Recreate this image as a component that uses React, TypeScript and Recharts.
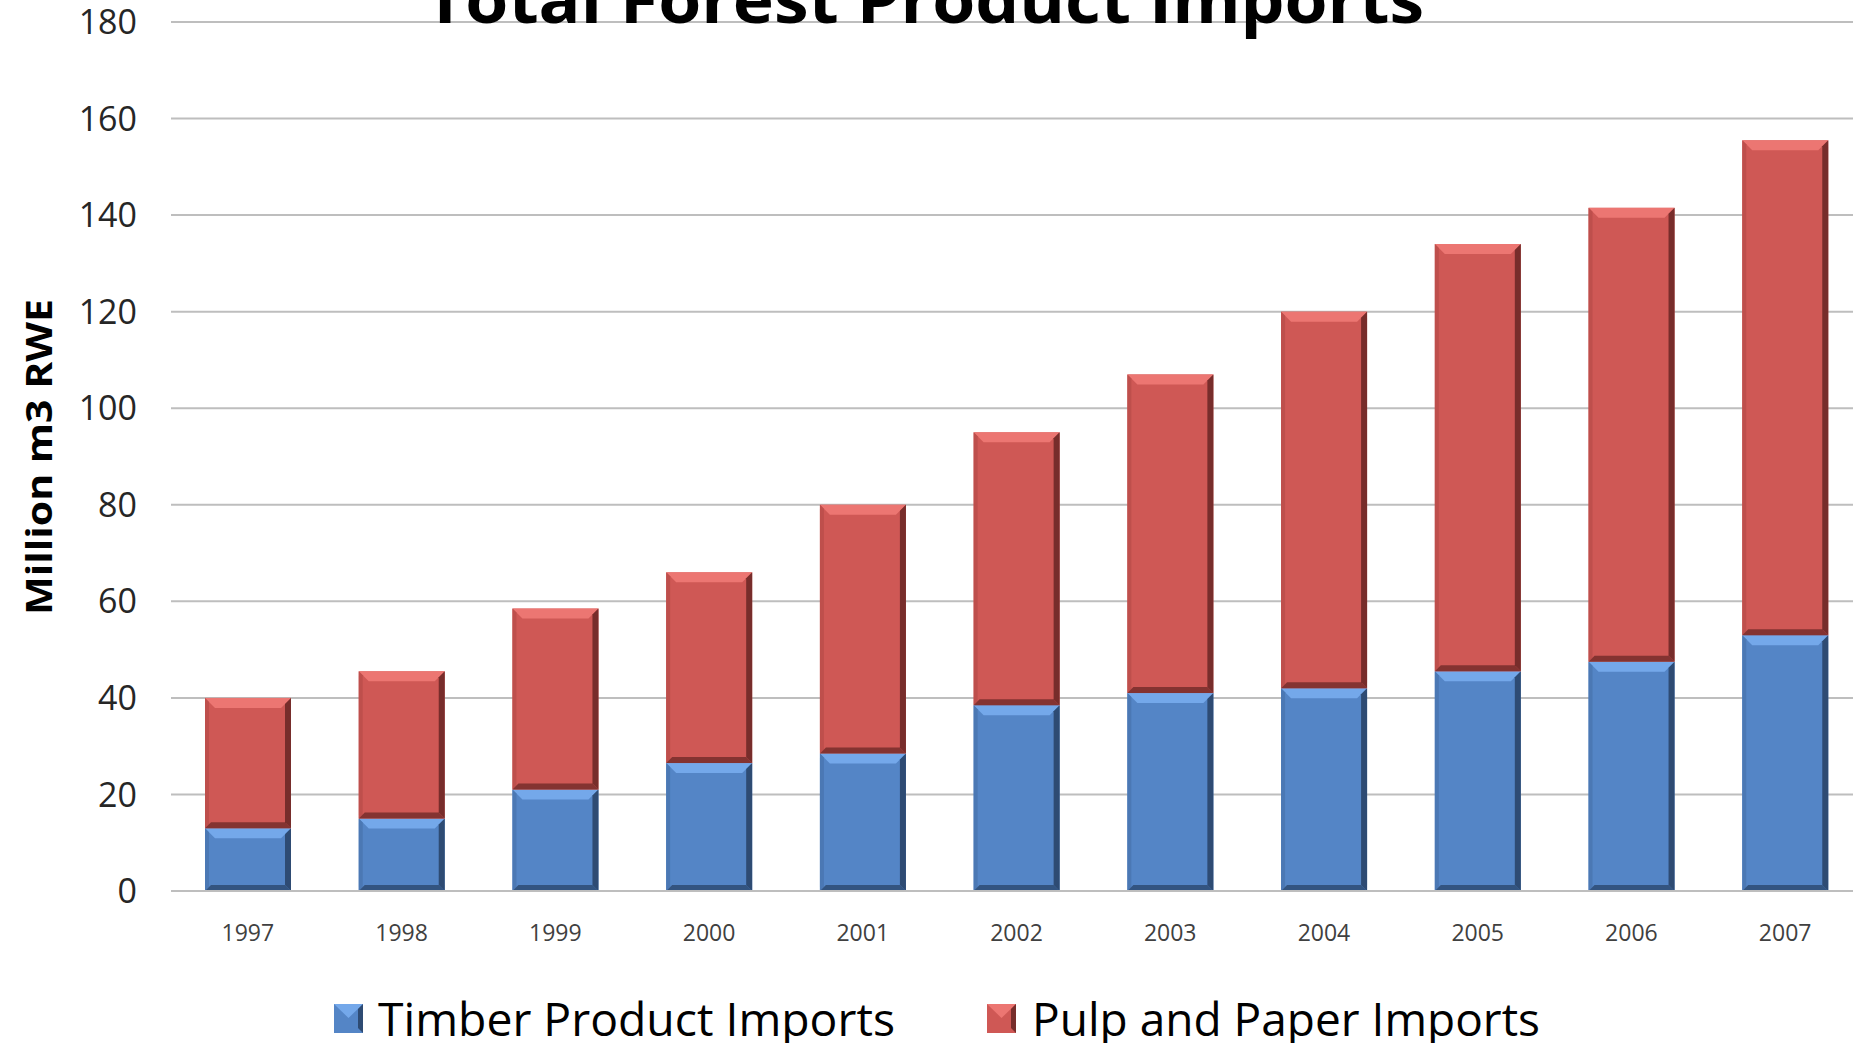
import { Bar, BarChart, CartesianGrid, XAxis, YAxis } from "recharts";

const years = ["1997", "1998", "1999", "2000", "2001", "2002", "2003", "2004", "2005", "2006", "2007"];
const timberImports = [13, 15, 21, 26.5, 28.5, 38.5, 41, 42, 45.5, 47.5, 53];
const pulpPaperImports = [27, 30.5, 37.5, 39.5, 51.5, 56.5, 66, 78, 88.5, 94, 102.5];
const yTicks = [0, 20, 40, 60, 80, 100, 120, 140, 160, 180];

const seriesNames = ["Timber Product Imports", "Pulp and Paper Imports"];

const BLUE = { base: "#5485C6", light: "#74A8EA", side: "#4B78B4", dark: "#2E4B73" };
const RED = { base: "#CF5855", light: "#EC7672", side: "#BE4F4C", dark: "#772D2B" };

const data = years.map((year, i) => ({
  year,
  timber: timberImports[i],
  pulp: pulpPaperImports[i],
}));

type Palette = typeof BLUE;

// fake the office "bevel" look with a few polygons
function makeBevel(p: Palette) {
  return (props: any) => {
    const { x, y, width: w, height: h } = props;
    if (!w || !h) return <g />;
    const b = Math.min(10, h / 3);
    const r = Math.min(6, h / 3);
    return (
      <g>
        <rect x={x} y={y} width={w} height={h} fill={p.base} />
        <polygon
          points={`${x},${y} ${x + w},${y} ${x + w - b},${y + b} ${x + b},${y + b}`}
          fill={p.light}
        />
        <polygon
          points={`${x},${y} ${x + 4},${y + 4} ${x + 4},${y + h - 4} ${x},${y + h}`}
          fill={p.side}
        />
        <polygon
          points={`${x + w},${y} ${x + w},${y + h} ${x + w - r},${y + h - r} ${x + w - r},${y + r}`}
          fill={p.dark}
        />
        <polygon
          points={`${x},${y + h} ${x + w},${y + h} ${x + w - r},${y + h - r} ${x + r},${y + h - r}`}
          fill={p.dark}
          opacity={0.85}
        />
      </g>
    );
  };
}

const legendItems = [
  { name: seriesNames[0], pal: BLUE, x: 334, textX: 378, textLen: 517 },
  { name: seriesNames[1], pal: RED, x: 987, textX: 1032, textLen: 508 },
];

export default function App() {
  return (
    <div
      style={{
        position: "absolute",
        left: 0,
        top: 0,
        width: 1853,
        height: 1043,
        overflow: "hidden",
        background: "#fff",
        fontFamily: "'Open Sans', sans-serif",
      }}
    >
      <BarChart
        width={1870}
        height={1043}
        data={data}
        margin={{ top: 22, right: 8, left: 0, bottom: 0 }}
      >
        <CartesianGrid vertical={false} stroke="#BEBEBE" strokeWidth={2} />
        <XAxis
          dataKey="year"
          height={152}
          axisLine={{ stroke: "#BEBEBE", strokeWidth: 2 }}
          tickLine={false}
          tickSize={0}
          tickMargin={34}
          tick={{ fill: "#404040", fontSize: 23, fontFamily: "'Open Sans', sans-serif" }}
          interval={0}
        />
        <YAxis
          width={171}
          domain={[0, 180]}
          ticks={yTicks}
          axisLine={false}
          tickLine={false}
          tickSize={0}
          tickMargin={34}
          tick={{ fill: "#262626", fontSize: 34, fontFamily: "'Open Sans', sans-serif" }}
        />
        <Bar
          dataKey="timber"
          name={seriesNames[0]}
          stackId="a"
          barSize={86}
          fill={BLUE.base}
          shape={makeBevel(BLUE)}
          isAnimationActive={false}
        />
        <Bar
          dataKey="pulp"
          name={seriesNames[1]}
          stackId="a"
          barSize={86}
          fill={RED.base}
          shape={makeBevel(RED)}
          isAnimationActive={false}
        />
      </BarChart>
      <svg
        width={1853}
        height={1043}
        style={{ position: "absolute", left: 0, top: 0, pointerEvents: "none" }}
      >
        <text
          x={425}
          y={23}
          fontSize={64}
          fontWeight="bold"
          fill="#000"
          textLength={999}
          lengthAdjust="spacingAndGlyphs"
          fontFamily="'Open Sans', sans-serif"
        >
          Total Forest Product Imports
        </text>
        <text
          transform="translate(52, 457) rotate(-90)"
          textAnchor="middle"
          fontSize={36}
          fontWeight="bold"
          fill="#000"
          textLength={316}
          lengthAdjust="spacingAndGlyphs"
          fontFamily="'Open Sans', sans-serif"
        >
          Million m3 RWE
        </text>
        {legendItems.map((it) => (
          <g key={it.name}>
            <rect x={it.x} y={1004} width={29} height={29} fill={it.pal.base} />
            <polygon
              points={`${it.x},${1004} ${it.x + 29},${1004} ${it.x + 14.5},${1018}`}
              fill={it.pal.light}
            />
            <polygon
              points={`${it.x + 29},${1004} ${it.x + 29},${1033} ${it.x + 24},${1028} ${it.x + 24},${1009}`}
              fill={it.pal.dark}
            />
            <text
              x={it.textX}
              y={1036}
              fontSize={46}
              fill="#000"
              textLength={it.textLen}
              lengthAdjust="spacingAndGlyphs"
              fontFamily="'Open Sans', sans-serif"
            >
              {it.name}
            </text>
          </g>
        ))}
      </svg>
    </div>
  );
}
